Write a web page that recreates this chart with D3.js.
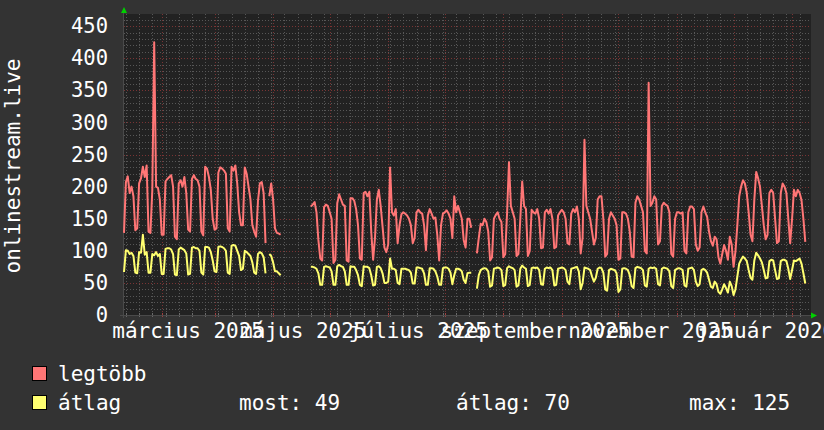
<!DOCTYPE html>
<html>
<head>
<meta charset="utf-8">
<script src="https://cdn.jsdelivr.net/npm/d3@7/dist/d3.min.js"></script>
<style>
  body { margin: 0; background: #333333; }
  svg { display: block; font-family: "DejaVu Sans Mono", monospace; }
</style>
</head>
<body>
<svg id="chart"></svg>
<script>
// one value per day, starting Sunday 2025-01-12 (null = no data)
const startDay = "2025-01-12";
const endDay = "2026-01-10T12:00";
const yTicks = [0, 50, 100, 150, 200, 250, 300, 350, 400, 450];
const yMax = 469;
const labelMonths = ["2025-03-01", "2025-05-01", "2025-07-01", "2025-09-01", "2025-11-01", "2026-01-01"];
const labelTexts = ["március 2025", "május 2025", "július 2025", "szeptember 2025", "november 2025", "január 2026"];

const legtobb = [
  128,207,216,190,200,185,132,
  135,205,213,231,215,233,130,
  128,195,425,200,198,180,125,
  125,208,212,215,218,200,122,
  118,205,210,200,215,190,133,
  130,212,218,212,210,200,130,
  124,231,228,215,195,150,133,
  135,222,230,228,225,220,135,
  130,231,225,233,205,160,140,
  140,230,220,200,180,140,130,
  122,178,205,207,190,112,null,
  185,205,180,135,128,127,125,
  null,null,null,null,null,null,null,
  null,null,null,null,null,null,null,
  null,169,172,176,160,117,88,
  85,168,172,170,160,150,81,
  86,174,188,180,172,170,85,
  83,182,182,178,165,140,88,
  86,190,192,185,192,130,86,
  120,180,195,170,138,105,98,
  110,230,160,155,165,112,140,
  157,160,158,155,150,140,112,
  120,160,164,160,158,140,101,
  155,165,158,150,152,125,85,
  140,158,160,163,158,150,120,
  185,160,170,160,150,117,105,
  150,150,136,null,null,96,120,
  142,140,150,145,130,85,90,
  150,156,160,150,145,90,95,
  160,238,170,160,150,92,95,
  150,208,170,165,92,100,164,
  160,158,165,150,104,105,160,
  164,158,165,150,104,106,155,
  160,164,160,150,112,110,158,
  165,160,169,150,96,120,273,
  170,160,150,130,110,120,180,
  185,185,150,91,95,150,160,
  155,150,140,86,88,160,160,
  158,150,130,91,90,175,185,
  180,170,160,100,96,362,170,
  175,185,180,110,115,170,175,
  172,170,160,95,91,150,160,
  160,158,160,100,96,160,169,
  169,165,110,100,105,160,169,
  160,153,130,115,108,122,118,
  90,80,95,109,100,86,122,
  110,75,99,140,185,200,210,
  205,190,160,125,115,180,223,
  213,200,170,140,118,125,190,
  195,190,150,112,115,190,205,
  200,190,150,112,150,195,185,
  195,190,179,150,114
];

const atlag = [
  67,101,100,95,97,92,66,
  65,98,97,125,94,98,66,
  66,95,93,98,92,95,64,
  64,103,104,104,102,95,63,
  62,102,105,103,101,96,63,
  64,105,106,104,104,100,66,
  63,106,106,105,98,85,68,
  67,106,107,106,104,100,66,
  64,108,109,108,100,92,70,
  72,100,98,95,92,82,66,
  64,95,98,96,90,65,null,
  95,92,82,68,68,65,62,
  null,null,null,null,null,null,null,
  null,null,null,null,null,null,null,
  null,75,75,74,72,65,47,
  47,75,76,75,74,68,47,
  47,76,78,76,75,68,47,
  47,76,75,75,70,62,47,
  45,76,75,75,73,62,46,
  47,75,76,73,65,50,50,
  52,88,72,72,70,50,48,
  72,72,72,71,70,66,49,
  49,74,74,73,72,65,47,
  47,73,73,72,68,60,47,
  47,73,74,74,72,66,48,
  62,72,72,71,68,55,50,
  65,66,66,null,null,41,62,
  70,72,73,72,68,44,46,
  72,73,74,73,70,45,47,
  73,76,74,73,70,44,46,
  72,77,74,72,45,47,73,
  74,73,74,70,48,47,72,
  74,73,74,70,46,47,72,
  73,74,73,70,52,48,72,
  73,74,75,68,40,50,74,
  73,72,70,60,52,58,72,
  74,73,66,40,38,70,72,
  71,70,65,36,40,72,73,
  72,70,62,45,42,73,75,
  74,73,70,46,44,72,74,
  73,74,72,48,46,72,74,
  73,72,68,45,42,70,72,
  73,72,70,46,44,72,73,
  74,70,52,45,48,70,72,
  70,66,55,44,42,52,48,
  36,33,40,48,42,35,52,
  45,31,40,60,80,86,91,
  88,84,70,58,55,85,97,
  93,88,82,70,57,58,84,
  86,85,70,56,57,84,86,
  86,84,72,56,70,85,84,
  86,88,80,65,49
];

const seriesNames = ["legtöbb", "átlag"];
const seriesColors = ["#ff7676", "#ffff70"];
const legendStats = ["most: 49", "átlag: 70", "max: 125"];
const yTitle = "onlinestream.live";

const width = 824, height = 430;
const margin = { top: 14, right: 14, bottom: 115, left: 124 };
const plotW = width - margin.left - margin.right;
const plotH = height - margin.top - margin.bottom;

const svg = d3.select("#chart").attr("width", width).attr("height", height);
svg.append("rect").attr("width", width).attr("height", height).attr("fill", "#333333");

const parseDay = d3.timeParse("%Y-%m-%d");
const t0 = parseDay(startDay);
const x = d3.scaleTime()
  .domain([t0, d3.isoParse(endDay)])
  .range([margin.left, margin.left + plotW]);
const y = d3.scaleLinear()
  .domain([0, yMax])
  .range([margin.top + plotH, margin.top]);

// plot background
svg.append("rect")
  .attr("x", margin.left - 1).attr("y", margin.top)
  .attr("width", plotW + 2).attr("height", plotH + 1)
  .attr("fill", "#222222");

const minorColor = "#575757", majorColor = "#7a3434";

gridY = (values, color) => {
  svg.append("g")
    .attr("transform", `translate(${margin.left},0)`)
    .call(d3.axisLeft(y).tickValues(values).tickSize(-plotW).tickFormat(""))
    .call(g => g.select(".domain").remove())
    .selectAll("line")
    .attr("stroke", color)
    .attr("stroke-dasharray", "1,2")
    .attr("shape-rendering", "crispEdges");
}

gridX = (interval, color) => {
  svg.append("g")
    .attr("transform", `translate(0,${margin.top + plotH})`)
    .call(d3.axisBottom(x).ticks(interval).tickSize(-plotH).tickFormat(""))
    .call(g => g.select(".domain").remove())
    .selectAll("line")
    .attr("stroke", color)
    .attr("stroke-dasharray", "1,2")
    .attr("shape-rendering", "crispEdges");
}

gridY(d3.range(10, yMax, 10).filter(v => v % 50 !== 0), minorColor);
gridX(d3.timeMonday.every(1), minorColor);
gridY(yTicks.filter(v => v > 0), majorColor);
gridX(d3.timeMonth.every(1), majorColor);

// small tick marks on the time axis
tickMarks = (interval, color) => {
  svg.append("g")
    .attr("transform", `translate(0,${margin.top + plotH - 2})`)
    .call(d3.axisBottom(x).ticks(interval).tickSizeInner(4).tickSizeOuter(0).tickFormat(""))
    .call(g => g.select(".domain").remove())
    .selectAll("line")
    .attr("stroke", color)
    .attr("shape-rendering", "crispEdges");
}
tickMarks(d3.timeMonday.every(1), "#6a6a6a");
tickMarks(d3.timeMonth.every(1), "#a04040");

// axis lines
svg.append("line")
  .attr("x1", margin.left - 4).attr("x2", margin.left + plotW + 2)
  .attr("y1", y(0) + 0.5).attr("y2", y(0) + 0.5)
  .attr("stroke", "#4a4a4a");
svg.append("line")
  .attr("x1", margin.left - 0.5).attr("x2", margin.left - 0.5)
  .attr("y1", margin.top - 2).attr("y2", y(0) + 3)
  .attr("stroke", "#4a4a4a");

// green arrows
svg.append("path")
  .attr("d", `M${margin.left - 3},${margin.top - 1} L${margin.left + 3},${margin.top - 1} L${margin.left},${margin.top - 7} Z`)
  .attr("fill", "#00d000");
const ax = margin.left + plotW + 1, ay = y(0) + 0.5;
svg.append("path")
  .attr("d", `M${ax},${ay - 3} L${ax},${ay + 3} L${ax + 6},${ay} Z`)
  .attr("fill", "#00d000");

// y axis labels
svg.append("g")
  .attr("transform", `translate(${margin.left - 16},0)`)
  .call(d3.axisLeft(y).tickValues(yTicks).tickSize(0).tickPadding(0))
  .call(g => g.select(".domain").remove())
  .selectAll("text")
  .attr("fill", "#ffffff")
  .attr("font-size", "20.5px")
  .attr("font-family", "DejaVu Sans Mono, monospace");

// x labels (centred half a month before the month line, like the original)
labelMonths.forEach((m, i) => {
  const d = d3.timeDay.offset(parseDay(m), -14);
  svg.append("text")
    .attr("x", x(d))
    .attr("y", 338)
    .attr("text-anchor", "middle")
    .attr("fill", "#ffffff")
    .attr("font-size", "21px")
    .text(labelTexts[i]);
});

// y title
svg.append("text")
  .attr("transform", "translate(20,166) rotate(-90)")
  .attr("text-anchor", "middle")
  .attr("fill", "#ffffff")
  .attr("font-size", "21px")
  .text(yTitle);

// series lines
const line = d3.line()
  .defined(d => d.value !== null)
  .x(d => x(d.date))
  .y(d => y(d.value));

[legtobb, atlag].forEach((vals, k) => {
  const pts = vals.map((v, i) => ({ date: d3.timeDay.offset(t0, i), value: v }));
  svg.append("path")
    .datum(pts)
    .attr("fill", "none")
    .attr("stroke", seriesColors[k])
    .attr("stroke-width", 2)
    .attr("stroke-linejoin", "round")
    .attr("d", line);
});

// legend
const legendY = [366, 395];
seriesNames.forEach((name, k) => {
  svg.append("rect")
    .attr("x", 32.5).attr("y", legendY[k] + 0.5)
    .attr("width", 14).attr("height", 14)
    .attr("fill", seriesColors[k])
    .attr("stroke", "#000000");
  svg.append("text")
    .attr("x", 58).attr("y", legendY[k] + 15)
    .attr("fill", "#ffffff")
    .attr("font-size", "21px")
    .text(name);
});
const statX = [239, 456, 689];
legendStats.forEach((s, i) => {
  svg.append("text")
    .attr("x", statX[i]).attr("y", legendY[1] + 15)
    .attr("fill", "#ffffff")
    .attr("font-size", "21px")
    .attr("xml:space", "preserve")
    .text(s);
});
</script>
</body>
</html>
